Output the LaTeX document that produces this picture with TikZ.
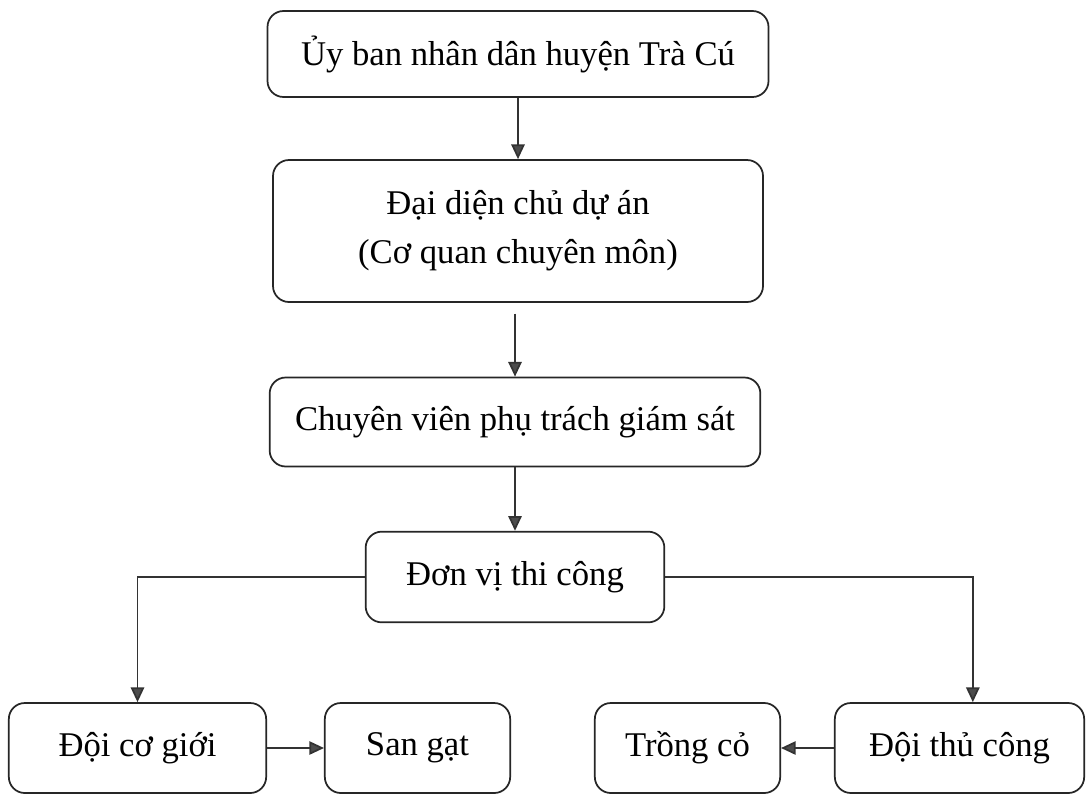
\documentclass[tikz,border=0pt]{standalone}
\usepackage{fontspec}
\setmainfont{Liberation Serif}
\usetikzlibrary{arrows.meta}

\begin{document}
\begin{tikzpicture}[
    x=0.75pt, y=-0.75pt,
    box/.style={draw=black!85, line width=1.3pt, rounded corners=12pt, inner sep=0pt, align=center, font=\fontsize{26}{37}\selectfont},
    arr/.style={-{Triangle[length=11pt, width=10pt, fill=black!70]}, draw=black!80, line width=1.3pt}
]
\fill[white] (0,0) rectangle (1088,793);
\useasboundingbox (0,0) rectangle (1088,793);

% chain down the middle
\node[box, minimum width=375.75pt, minimum height=64.5pt] (ubnd) at (518,54) {Ủy ban nhân dân huyện Trà Cú};
\node[box, minimum width=367.5pt, minimum height=106.5pt] (cdt) at (518,231) {Đại diện chủ dự án\\(Cơ quan chuyên môn)};
\node[box, minimum width=368pt, minimum height=66.75pt] (cvgs) at (515,422) {Chuyên viên phụ trách giám sát};
\node[box, minimum width=224pt, minimum height=68pt] (dvtc) at (515,577) {Đơn vị thi công};

% bottom row
\node[box, minimum width=193pt, minimum height=67.5pt] (dcg) at (137.5,748) {Đội cơ giới};
\node[box, minimum width=139pt, minimum height=67.5pt] (sg) at (417.5,748) {San gạt};
\node[box, minimum width=139pt, minimum height=67.5pt] (tc) at (687.5,748) {Trồng cỏ};
\node[box, minimum width=187pt, minimum height=67.5pt] (dtc) at (959.5,748) {Đội thủ công};

\draw[arr] (ubnd.south) -- (ubnd.south |- cdt.north);
\draw[arr, shorten <=8pt] (cdt.south -| cvgs.north) -- (cvgs.north);
\draw[arr] (cvgs) -- (dvtc);
\draw[arr] (dvtc.west) -| (dcg.north);
\draw[arr] (dvtc.east) -| ([xshift=10pt]dtc.north);
\draw[arr] (dcg) -- (sg);
\draw[arr] (dtc) -- (tc);
\end{tikzpicture}
\end{document}
